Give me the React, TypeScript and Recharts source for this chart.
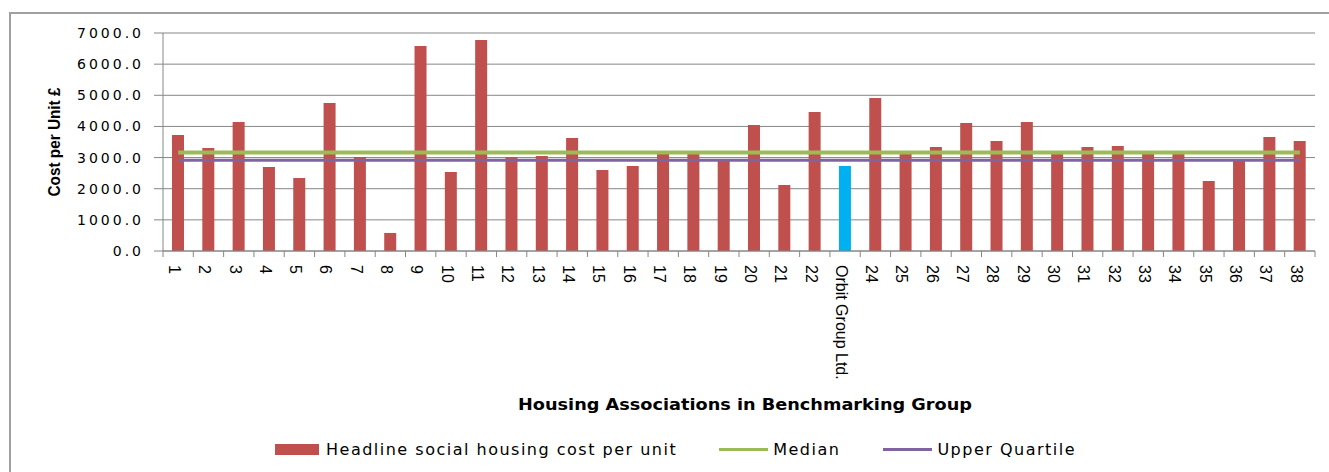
import {
  ComposedChart,
  Bar,
  Line,
  XAxis,
  YAxis,
  CartesianGrid,
  Cell,
  Legend,
  Label,
} from "recharts";

const categories = [
  "1", "2", "3", "4", "5", "6", "7", "8", "9", "10",
  "11", "12", "13", "14", "15", "16", "17", "18", "19", "20",
  "21", "22", "Orbit Group Ltd.", "24", "25", "26", "27", "28", "29", "30",
  "31", "32", "33", "34", "35", "36", "37", "38",
];

const costPerUnit = [
  3725, 3310, 4140, 2700, 2345, 4750, 3020, 580, 6580, 2540,
  6775, 3020, 3050, 3630, 2600, 2730, 3120, 3130, 2900, 4045,
  2120, 4465, 2730, 4915, 3120, 3340, 4110, 3530, 4140, 3120,
  3340, 3370, 3120, 3120, 2250, 2900, 3660, 3530,
];

const medianCost = 3160;
const upperQuartileCost = 2910;

const yTicks = [0, 1000, 2000, 3000, 4000, 5000, 6000, 7000];

const highlighted = "Orbit Group Ltd.";

const RED = "#C0504D";
const BLUE = "#00B0F0";
const GREEN = "#9BBB59";
const PURPLE = "#8064A2";
const GRID = "#868686";

const data = categories.map((name, i) => ({
  name,
  cost: costPerUnit[i],
  median: medianCost,
  upper: upperQuartileCost,
}));

function XTick(props: any) {
  const { x, y, payload, index } = props;
  const half = payload.offset ?? 15;
  const axisY = y - 8;
  const ty = y + 6;
  return (
    <g>
      <line x1={x - half} x2={x - half} y1={axisY} y2={axisY + 6} stroke={GRID} />
      {index === categories.length - 1 && (
        <line x1={x + half} x2={x + half} y1={axisY} y2={axisY + 6} stroke={GRID} />
      )}
      <text
        x={x}
        y={ty}
        dy="0.58em"
        transform={`rotate(90, ${x}, ${ty})`}
        textAnchor="start"
        fontFamily="Liberation Sans"
        fontSize={16}
        fill="#000"
      >
        {payload.value}
      </text>
    </g>
  );
}

function YTick(props: any) {
  const { x, y, payload } = props;
  return (
    <text
      x={x}
      y={y}
      dy="0.36em"
      textAnchor="end"
      fontFamily="DejaVu Sans"
      fontSize={14}
      letterSpacing={3}
      fill="#000"
    >
      {Number(payload.value).toFixed(1)}
    </text>
  );
}

function YTitle(props: any) {
  const { viewBox } = props;
  const cx = viewBox.x + 54;
  const cy = viewBox.y + viewBox.height / 2;
  return (
    <text
      x={cx}
      y={cy}
      transform={`rotate(-90, ${cx}, ${cy})`}
      textAnchor="middle"
      dominantBaseline="central"
      fontFamily="Liberation Sans"
      fontWeight="bold"
      fontSize={17}
      textLength={109}
      lengthAdjust="spacingAndGlyphs"
      fill="#000"
    >
      Cost per Unit £
    </text>
  );
}

function XTitle(props: any) {
  const { viewBox } = props;
  const cx = viewBox.x + viewBox.width / 2 + 6;
  const by = viewBox.y + 159;
  return (
    <text
      x={cx}
      y={by}
      textAnchor="middle"
      fontFamily="DejaVu Sans"
      fontWeight="bold"
      fontSize={16}
      textLength={454}
      lengthAdjust="spacingAndGlyphs"
      fill="#000"
    >
      Housing Associations in Benchmarking Group
    </text>
  );
}

const legendGaps = [42, 43, 0];

function LegendContent(props: any) {
  const { payload } = props;
  return (
    <div
      style={{
        display: "flex",
        alignItems: "center",
        paddingLeft: 275,
        fontFamily: "DejaVu Sans",
        fontSize: 16,
        letterSpacing: 1.5,
        color: "#000",
        whiteSpace: "nowrap",
      }}
    >
      {payload.map((entry: any, i: number) => (
        <div
          key={i}
          style={{ display: "flex", alignItems: "center", marginRight: legendGaps[i] }}
        >
          {entry.type === "rect" ? (
            <span
              style={{
                display: "inline-block",
                width: 44,
                height: 11,
                background: entry.color,
                marginRight: 7,
              }}
            />
          ) : (
            <span
              style={{
                display: "inline-block",
                width: 49,
                height: 3,
                background: entry.color,
                marginRight: 5,
              }}
            />
          )}
          <span>{entry.value}</span>
        </div>
      ))}
    </div>
  );
}

export default function App() {
  return (
    <div
      style={{
        position: "relative",
        width: 1329,
        height: 472,
        overflow: "hidden",
        background: "#fff",
      }}
    >
      <style>{`body{margin:0}`}</style>
      <div
        style={{
          position: "absolute",
          left: 9,
          top: 12,
          width: 1400,
          height: 500,
          border: "2px solid #A0A0A0",
        }}
      />
      <div style={{ position: "absolute", left: 0, top: 0 }}>
        <ComposedChart
          width={1329}
          height={472}
          data={data}
          margin={{ top: 33, right: 14, bottom: 0, left: 0 }}
        >
          <CartesianGrid vertical={false} stroke={GRID} />
          <XAxis
            dataKey="name"
            interval={0}
            height={221}
            tickLine={false}
            tickSize={6}
            tickMargin={2}
            axisLine={{ stroke: GRID }}
            tick={<XTick />}
          >
            <Label content={<XTitle />} />
          </XAxis>
          <YAxis
            width={163}
            domain={[0, 7000]}
            ticks={yTicks}
            interval={0}
            tickSize={9}
            tickMargin={10}
            tickLine={{ stroke: GRID }}
            axisLine={{ stroke: GRID }}
            tick={<YTick />}
          >
            <Label content={<YTitle />} />
          </YAxis>
          <Bar
            dataKey="cost"
            name="Headline social housing cost per unit"
            fill={RED}
            barSize={12}
            legendType="rect"
            isAnimationActive={false}
          >
            {data.map((d, i) => (
              <Cell key={i} fill={d.name === highlighted ? BLUE : RED} />
            ))}
          </Bar>
          <Line
            dataKey="median"
            name="Median"
            type="linear"
            stroke={GREEN}
            strokeWidth={4}
            dot={false}
            activeDot={false}
            legendType="line"
            isAnimationActive={false}
          />
          <Line
            dataKey="upper"
            name="Upper Quartile"
            type="linear"
            stroke={PURPLE}
            strokeWidth={3}
            dot={false}
            activeDot={false}
            legendType="line"
            isAnimationActive={false}
          />
          <Legend
            layout="horizontal"
            verticalAlign="middle"
            align="center"
            wrapperStyle={{ top: 440, left: 0, width: 1329 }}
            content={<LegendContent />}
          />
        </ComposedChart>
      </div>
    </div>
  );
}
